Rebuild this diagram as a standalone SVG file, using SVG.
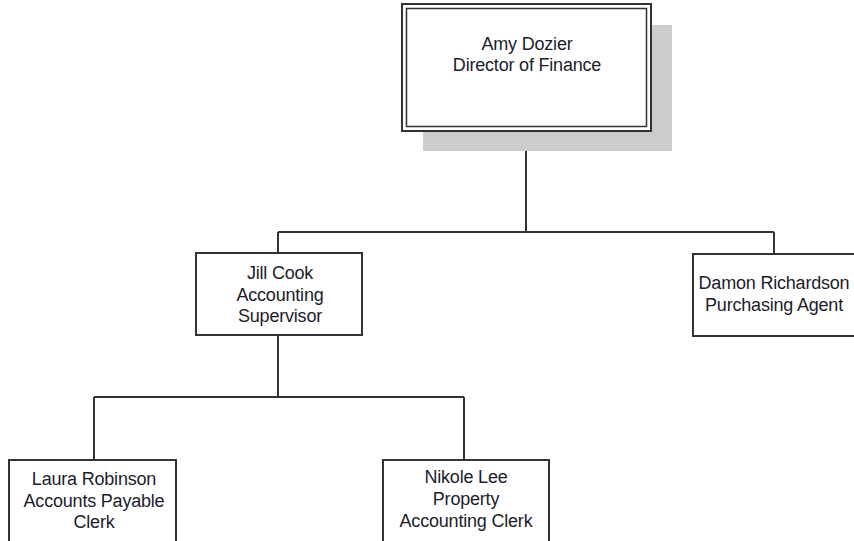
<svg xmlns="http://www.w3.org/2000/svg" width="854" height="541" viewBox="0 0 854 541">
<style>
.box{fill:#fff;stroke:#333;stroke-width:2}
.ln{fill:none;stroke:#333;stroke-width:2}
text{font-family:"Liberation Sans",Arial,sans-serif;font-size:18px;fill:#1c1c2c;text-anchor:middle;letter-spacing:-0.2px}
</style>
<rect width="854" height="541" fill="#fff"/>
<g id="connectors">
<path class="ln" d="M526 131V232M278 232H774M278 232V253M774 232V254M278 335V397M94 397H464M94 397V460M464 397V460"/>
</g>
<g id="amy">
<rect x="423" y="25" width="249" height="126" fill="#cccccc"/>
<rect x="402" y="4" width="249" height="127" fill="#fff" stroke="#333" stroke-width="2"/>
<rect x="406.5" y="8.5" width="240" height="118" fill="none" stroke="#333" stroke-width="1.5"/>
<text x="527" y="50">Amy Dozier</text>
<text x="527" y="71">Director of Finance</text>
</g>
<g id="jill">
<rect class="box" x="196" y="253" width="166" height="82"/>
<text x="280" y="279">Jill Cook</text>
<text x="280" y="301">Accounting</text>
<text x="280" y="322">Supervisor</text>
</g>
<g id="damon">
<rect class="box" x="693" y="254" width="164" height="82"/>
<text x="774" y="289">Damon Richardson</text>
<text x="774" y="311">Purchasing Agent</text>
</g>
<g id="laura">
<rect class="box" x="9" y="460" width="167" height="90"/>
<text x="94" y="485">Laura Robinson</text>
<text x="94" y="507">Accounts Payable</text>
<text x="94" y="528">Clerk</text>
</g>
<g id="nikole">
<rect class="box" x="383" y="460" width="166" height="90"/>
<text x="466" y="483">Nikole Lee</text>
<text x="466" y="505">Property</text>
<text x="466" y="527">Accounting Clerk</text>
</g>
</svg>
